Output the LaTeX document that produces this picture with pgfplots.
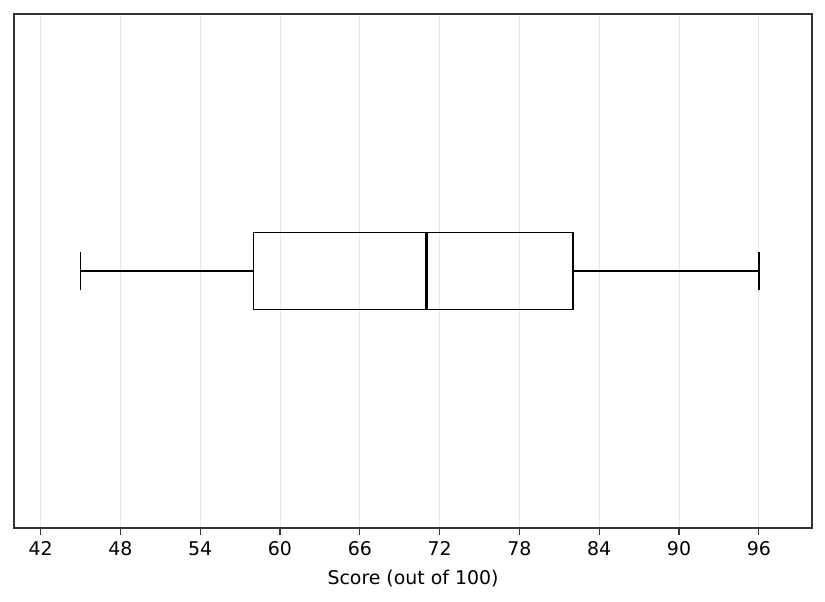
\documentclass[border=0pt]{standalone}
\usepackage{fontspec}
\setmainfont{DejaVu Sans}
\usepackage{pgfplots}
\pgfplotsset{compat=1.18}
\usepgfplotslibrary{statistics}
\definecolor{gridgray}{HTML}{E5E5E5}
\definecolor{axisgray}{HTML}{333333}
\begin{document}
\begin{tikzpicture}
\begin{axis}[
  name=ax,
  scale only axis,
  width=574.56pt, height=370.08pt,
  xmin=40, xmax=100,
  ymin=-1, ymax=1,
  xtick={42,48,...,96},
  ytick=\empty,
  xmajorgrids,
  grid style={gridgray, line width=0.6pt},
  axis line style={axisgray, line width=0.9pt},
  tick style={axisgray, line width=0.9pt},
  tick align=outside,
  major tick length=5pt,
  xtick pos=bottom,
  /pgf/number format/assume math mode=true,
  tick label style={font=\fontsize{13.6}{16}\selectfont},
  xticklabel style={yshift=-1.5pt},
  label style={font=\fontsize{13.6}{16}\selectfont},
  xlabel style={yshift=-3.5pt},
  xlabel={Score (out of 100)},
  boxplot/draw direction=x,
]
\addplot[black, line width=1.3pt, solid,
  boxplot prepared={
    lower whisker=45, lower quartile=58, median=71,
    upper quartile=82, upper whisker=96,
    draw position=0, box extend=0.3, whisker extend=0.15,
    every box/.style={draw=black, line width=1.3pt},
    every whisker/.style={black, line width=1.3pt},
    every median/.style={black, line width=2.2pt},
  }] coordinates {};
\end{axis}
% page margins as in the reference
\path (ax.south west) ++(-10.08pt,-53.28pt) coordinate (bl);
\path (ax.north east) ++(9.36pt,10.08pt) coordinate (tr);
\useasboundingbox (bl) rectangle (tr);
\end{tikzpicture}
\end{document}
